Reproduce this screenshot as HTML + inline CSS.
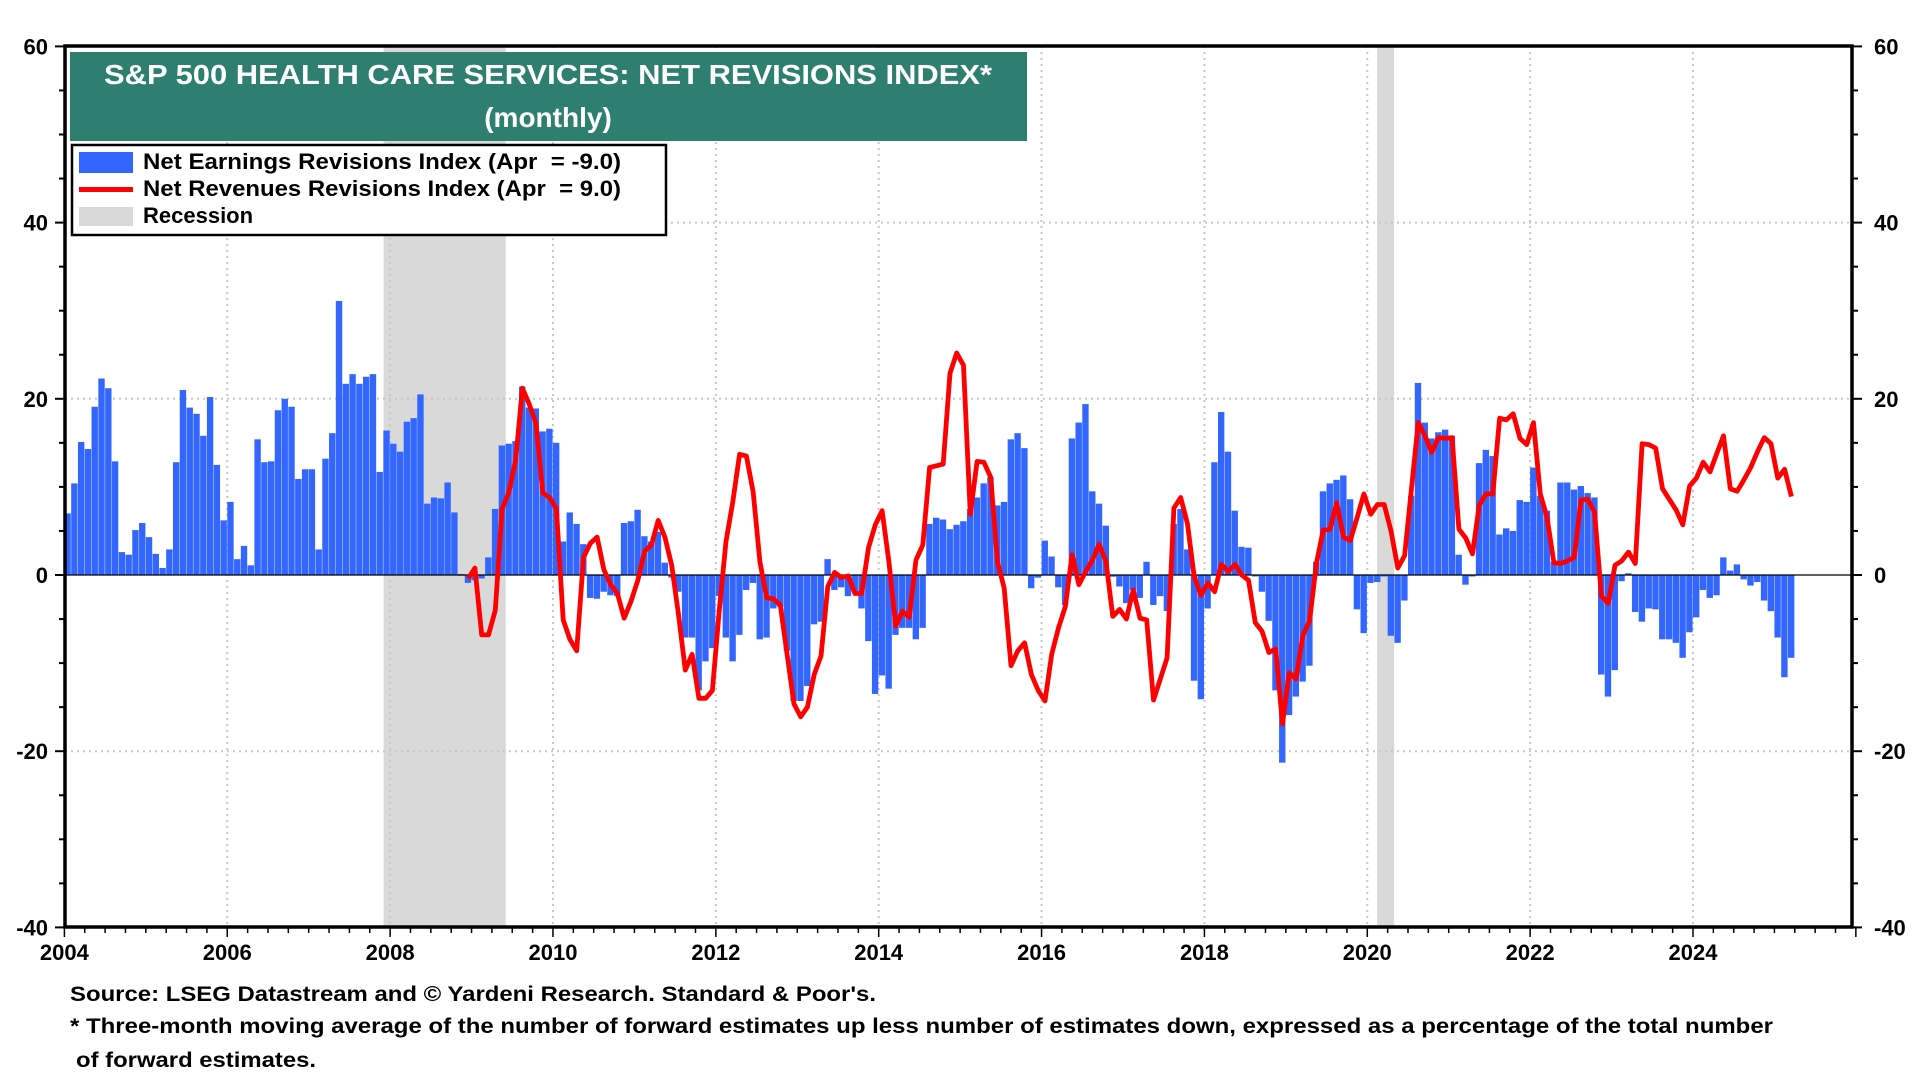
<!DOCTYPE html>
<html><head><meta charset="utf-8"><style>
body{margin:0;background:#fff;}
svg{display:block;font-family:"Liberation Sans",Arial,sans-serif;font-weight:bold;}
</style></head><body>
<svg id="chart" width="1920" height="1080" viewBox="0 0 1920 1080" xmlns="http://www.w3.org/2000/svg">
<g id="recessions"></g>
<g id="grid"></g>
<g id="bars"></g>
<line x1="65" x2="1852" y1="575" y2="575" stroke="#000" stroke-width="1.2"/>
<polyline id="redline" fill="none" stroke="#ff0000" stroke-width="4.8" stroke-linejoin="round"/>
<rect x="65" y="46" width="1787" height="881" fill="none" stroke="#000" stroke-width="3.5"/>
<g id="axes"></g>
<g>
<rect x="70" y="52" width="957" height="89" fill="#2f7f71"/>
<text x="548" y="84" fill="#fff" font-size="28" text-anchor="middle" textLength="888" lengthAdjust="spacingAndGlyphs">S&amp;P 500 HEALTH CARE SERVICES: NET REVISIONS INDEX*</text>
<text x="548" y="127" fill="#fff" font-size="28" text-anchor="middle">(monthly)</text>
</g>
<g>
<rect x="72" y="145" width="594" height="90" fill="#fff" stroke="#000" stroke-width="2.5"/>
<rect x="79" y="152" width="54" height="21" fill="#3366ff"/>
<text x="143" y="169" font-size="22" xml:space="preserve" style="white-space:pre" textLength="478" lengthAdjust="spacingAndGlyphs">Net Earnings Revisions Index (Apr  = -9.0)</text>
<rect x="79" y="187" width="54" height="5" fill="#ff0000"/>
<text x="143" y="196" font-size="22" xml:space="preserve" style="white-space:pre" textLength="478" lengthAdjust="spacingAndGlyphs">Net Revenues Revisions Index (Apr  = 9.0)</text>
<rect x="79" y="207" width="54" height="19" fill="#d9d9d9"/>
<text x="143" y="223" font-size="22">Recession</text>
</g>
<g font-size="21">
<text x="70" y="1001" textLength="806" lengthAdjust="spacingAndGlyphs">Source: LSEG Datastream and © Yardeni Research. Standard &amp; Poor's.</text>
<text x="70" y="1033" textLength="1703" lengthAdjust="spacingAndGlyphs">* Three-month moving average of the number of forward estimates up less number of estimates down, expressed as a percentage of the total number</text>
<text x="76" y="1067" textLength="240" lengthAdjust="spacingAndGlyphs">of forward estimates.</text>
</g>
</svg>
<script>
const earnings = [7.0,10.4,15.1,14.3,19.1,22.3,21.2,12.9,2.6,2.3,
5.1,5.9,4.3,2.4,0.8,2.9,12.8,21.0,19.0,18.3,
15.8,20.2,12.5,6.2,8.3,1.8,3.3,1.1,15.4,12.8,
12.9,18.7,20.0,19.1,10.9,12.0,12.0,2.9,13.2,16.1,
31.1,21.7,22.8,21.7,22.5,22.8,11.7,16.4,14.9,14.0,
17.4,17.8,20.5,8.1,8.8,8.7,10.5,7.1,0.1,-0.9,
-0.6,-0.4,2.0,7.5,
14.7,14.9,15.2,21.4,19.0,18.9,16.3,16.6,15.0,3.8,
7.1,5.8,3.5,-2.6,-2.7,-1.9,-2.3,-2.4,5.9,6.1,
7.4,4.4,3.8,4.9,1.4,-0.3,-1.9,-7.1,-7.1,-13.1,
-9.8,-8.3,-2.4,-7.1,-9.8,-6.8,-1.7,-0.9,-7.3,-7.1,
-3.8,-3.6,-8.6,-14.3,-14.3,-12.6,-5.6,-5.3,1.8,-1.7,
-1.4,-2.4,-1.9,-3.8,-7.5,-13.5,-11.4,-12.9,-6.8,-6.0,
-6.0,-7.3,-6.0,5.8,6.5,6.3,5.2,5.7,
6.1,7.5,8.8,10.4,11.1,7.9,8.3,15.4,16.1,14.4,
-1.5,-0.3,3.9,2.1,-1.4,-3.4,15.5,17.3,19.4,9.5,
8.1,5.6,-0.2,-1.3,-3.2,-1.7,-2.6,1.5,-3.4,-2.4,
-4.1,5.8,7.5,2.9,-12.0,-14.1,-3.8,12.8,18.5,14.0,
7.3,3.2,3.1,-0.1,-1.9,-5.2,-13.1,-21.3,-15.9,-13.8,
-12.1,-10.3,1.5,9.5,10.4,10.8,11.3,8.6,-3.9,-6.6,
-0.9,-0.8,0,-6.9,-7.7,
-2.9,9.0,21.8,17.3,15.5,16.2,16.5,15.8,2.3,-1.1,
0,12.7,14.2,13.5,4.6,5.3,5.0,8.5,8.3,12.2,
9.0,7.3,1.5,10.5,10.5,9.7,10.1,9.3,8.8,-11.3,
-13.8,-10.8,-0.7,0.2,-4.2,-5.3,-3.8,-3.9,-7.3,-7.3,
-7.7,-9.4,-6.5,-4.8,-1.7,-2.6,-2.3,2.0,0.5,1.2,
-0.5,-1.2,-0.8,-2.9,-4.1,-7.1,-11.6,-9.4];
const revenuesStart = 59;
const revenues = [-0.4,0.8,-6.8,-6.8,-4.0,7.5,9.4,13.1,21.2,19.4,
17.2,9.3,8.8,7.5,-5.1,-7.3,-8.6,2.0,3.6,4.3,
0.6,-1.1,-2.1,-4.9,-3.0,-0.6,2.7,3.4,6.2,4.3,
1.1,-4.5,-10.8,-9.0,-14.0,-14.0,-13.1,-4.1,3.8,8.3,
13.7,13.5,9.4,1.5,-2.6,-2.7,-3.4,-9.0,-14.6,-16.1,
-15.0,-11.3,-9.2,-1.3,0.3,-0.3,-0.1,-2.1,-2.1,3.1,
5.7,7.3,1.5,-5.8,-4.1,-4.8,1.7,3.4,12.2,12.4,
12.6,22.9,25.2,23.8,6.9,12.9,12.8,11.1,1.5,-1.5,
-10.3,-8.6,-7.7,-11.3,-13.1,-14.3,-9.0,-6.0,-3.6,2.3,
-1.1,0.4,1.7,3.5,1.5,-4.7,-3.9,-5.0,-1.7,-4.9,
-5.1,-14.2,-11.8,-9.4,7.6,8.8,5.8,-0.2,-2.3,-0.9,
-1.9,1.2,0.4,1.2,0,-0.6,-5.4,-6.4,-8.8,-8.4,
-16.9,-11.1,-11.8,-6.9,-5.2,1.3,5.1,5.2,8.2,4.3,
3.9,6.5,9.2,6.9,8.0,8.0,5.0,0.8,2.2,9.7,
17.3,15.8,13.9,15.6,15.5,15.6,5.2,4.2,2.4,7.9,
9.2,9.2,17.8,17.6,18.3,15.5,14.8,17.3,9.2,6.5,
1.4,1.3,1.6,2.0,8.5,8.6,7.1,-2.4,-3.2,1.1,
1.6,2.6,1.3,14.9,14.8,14.4,9.8,8.6,7.4,5.7,
10.1,11.0,12.8,11.7,13.8,15.8,9.8,9.5,10.8,12.2,
14.0,15.6,14.9,11.0,12.0,8.9];
const recessionStarts = [2007.92, 2020.12];
const recessionEnds = [2009.42, 2020.33];
const yTicks = [60,40,20,0,-20,-40];
const xTickYears = [2004,2006,2008,2010,2012,2014,2016,2018,2020,2022,2024];

const NS = "http://www.w3.org/2000/svg";
const X0 = 64.4, PXY = 81.43, Y0 = 575, PXU = 8.81;
const TOP = 46, BOT = 927;
function xT(t){ return X0 + (t-2004)*PXY; }
function yV(v){ return Y0 - v*PXU; }
function xM(k){ return xT(2004 + (k+0.5)/12); }
function mk(tag, attrs, parent){ const e=document.createElementNS(NS,tag); for(const k in attrs) e.setAttribute(k,attrs[k]); parent.appendChild(e); return e; }

const rec = document.getElementById('recessions');
recessionStarts.forEach((s,i)=>{
  const r = mk('rect',{x:xT(s),y:TOP,width:xT(recessionEnds[i])-xT(s),height:BOT-TOP,fill:'#d9d9d9'},rec);
  
  
});
const grid = document.getElementById('grid');
yTicks.forEach(v=>{
  if(v===60||v===-40||v===0) return;
  const l = mk('line',{x1:65,x2:1852,y1:yV(v),y2:yV(v),stroke:'#c8c8c8','stroke-width':2,'stroke-dasharray':'2 4'},grid);
  
  
});
xTickYears.forEach(y=>{
  if(y===2004) return;
  const l = mk('line',{x1:xT(y),x2:xT(y),y1:TOP,y2:BOT,stroke:'#c8c8c8','stroke-width':2,'stroke-dasharray':'2 4'},grid);
  
  
});
const bars = document.getElementById('bars');
const bw = PXY/12;
earnings.forEach((v,k)=>{
  const y = Math.min(yV(v),Y0), h = Math.max(Math.abs(yV(v)-Y0),1.5);
  const r = mk('rect',{x:xM(k)-bw/2,y:y,width:bw-0.4,height:h,fill:'#3366ff'},bars);
  
  
});
document.getElementById('redline').setAttribute('points', revenues.map((v,i)=>xM(i+revenuesStart).toFixed(1)+','+yV(v).toFixed(1)).join(' '));

const axes = document.getElementById('axes');
for(let v=-40; v<=60; v+=5){
  const big = v%20===0;
  const l1 = mk('line',{x1:65-(big?10:6),x2:65,y1:yV(v),y2:yV(v),stroke:'#000','stroke-width':2},axes);
  
  
  const l2 = mk('line',{x1:1852,x2:1852+(big?10:6),y1:yV(v),y2:yV(v),stroke:'#000','stroke-width':2},axes);
  
  
}
yTicks.forEach(v=>{
  const t1 = mk('text',{x:48,y:yV(v)+8,'font-size':22,'text-anchor':'end'},axes);
  t1.textContent = v;
  
  
  const t2 = mk('text',{x:1874,y:yV(v)+8,'font-size':22},axes);
  t2.textContent = v;
  
  
});
for(let q=0; q<=88; q++){
  const t = 2004+q/4;
  const big = q%8===0;
  const l = mk('line',{x1:xT(t),x2:xT(t),y1:BOT,y2:BOT+(big?10:6),stroke:'#000','stroke-width':1.5},axes);
  
  
}
xTickYears.forEach(y=>{
  const t = mk('text',{x:xT(y),y:960,'font-size':22,'text-anchor':'middle'},axes);
  t.textContent = y;
  
  
});
</script>
</body></html>
